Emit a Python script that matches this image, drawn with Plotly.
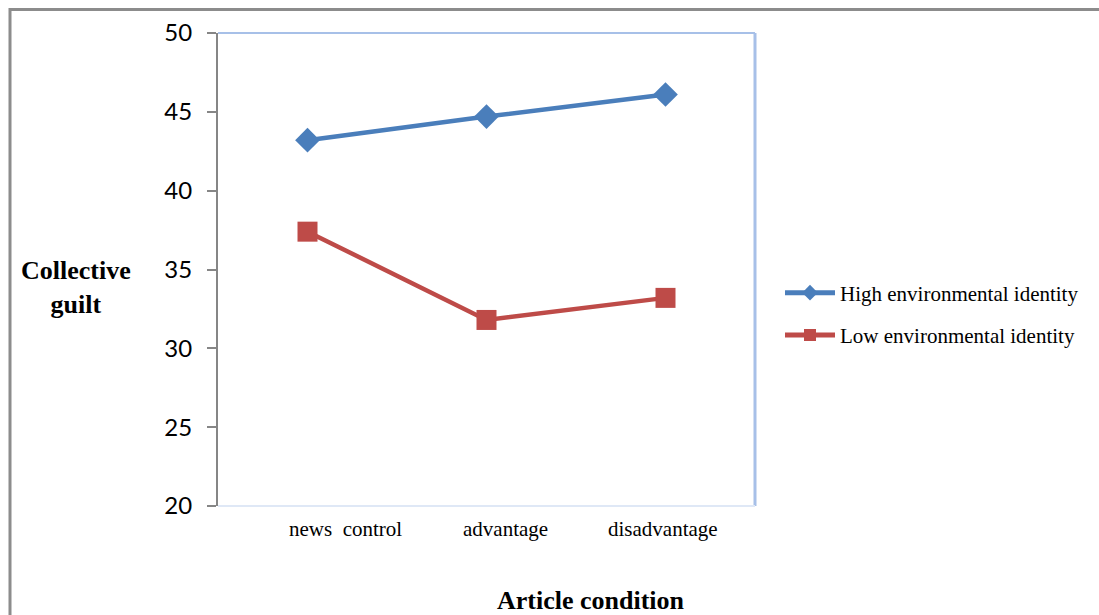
import plotly.graph_objects as go

conditions = ["news  control", "advantage", "disadvantage"]
high_identity = [43.2, 44.7, 46.1]
low_identity = [37.4, 31.8, 33.2]
y_ticks = [20, 25, 30, 35, 40, 45, 50]

W, H = 1099, 615
L, R, T, B = 218, 755, 33, 506  # plot area in pixels
label_shift = [38, 19, -3]  # horizontal nudge of each category label


def px_x(x):
    return (x - L) / (R - L)


def px_y(y):
    return (B - y) / (B - T)


fig = go.Figure()
fig.add_trace(go.Scatter(
    x=conditions, y=high_identity, mode="lines+markers",
    name="High environmental identity", legendgroup="high",
    line=dict(color="#4a7ebb", width=4.5),
    marker=dict(symbol="diamond", size=19, color="#4a7ebb"),
))
fig.add_trace(go.Scatter(
    x=conditions, y=low_identity, mode="lines+markers",
    name="Low environmental identity", legendgroup="low",
    line=dict(color="#be4b48", width=4.5),
    marker=dict(symbol="square", size=20, color="#be4b48"),
))

shapes = [
    # outer chart border
    dict(type="rect", xref="paper", yref="paper",
         x0=px_x(10), x1=px_x(1110), y0=px_y(625), y1=px_y(9.5),
         line=dict(color="#8c8c8c", width=3), layer="below"),
    # plot frame
    dict(type="line", xref="paper", yref="paper", x0=0, x1=1, y0=1, y1=1,
         line=dict(color="#a7c0e8", width=2)),
    dict(type="line", xref="paper", yref="paper", x0=1, x1=1, y0=0, y1=1,
         line=dict(color="#a7c0e8", width=3)),
    dict(type="line", xref="paper", yref="paper", x0=0, x1=1, y0=0, y1=0,
         line=dict(color="#dfe8f6", width=2)),
]

annotations = [
    dict(text="<b>Collective<br>guilt</b>", xref="paper", yref="paper",
         x=px_x(76), y=px_y(287), xanchor="center", yanchor="middle",
         showarrow=False, align="center",
         font=dict(family="Liberation Serif", size=26, color="#000000")),
    dict(text="<b>Article condition</b>", xref="paper", yref="paper",
         x=px_x(591), y=px_y(600), xanchor="center", yanchor="middle",
         showarrow=False,
         font=dict(family="Liberation Serif", size=26, color="#000000")),
]
# category labels under the plot area
for cat, dx in zip(conditions, label_shift):
    annotations.append(dict(
        text=cat, x=cat, xref="x", y=px_y(529), yref="paper",
        xanchor="center", yanchor="middle", xshift=dx, showarrow=False,
        font=dict(family="Liberation Serif", size=21, color="#000000"),
    ))

fig.update_layout(
    width=W, height=H,
    margin=dict(l=L, r=W - R, t=T, b=H - B, pad=0),
    paper_bgcolor="white", plot_bgcolor="white",
    showlegend=True,
    legend=dict(x=px_x(780), y=px_y(314), xanchor="left", yanchor="middle",
                font=dict(family="Liberation Serif", size=21, color="#000000"),
                itemwidth=50, itemsizing="constant", tracegroupgap=12,
                bgcolor="rgba(0,0,0,0)"),
    shapes=shapes, annotations=annotations,
)
fig.update_xaxes(
    type="category", range=[-0.5, 2.5], showgrid=False, showline=False,
    ticks="", showticklabels=False,
)
fig.update_yaxes(
    range=[20, 50], tickvals=y_ticks, showgrid=False, zeroline=False,
    showline=True, linecolor="#868686", linewidth=2,
    ticks="outside", ticklen=9, tickcolor="#868686", tickwidth=1.5,
    tickfont=dict(family="Lato", size=24, color="#000000"),
    ticklabelstandoff=10,
)

fig.write_html("out.html")
